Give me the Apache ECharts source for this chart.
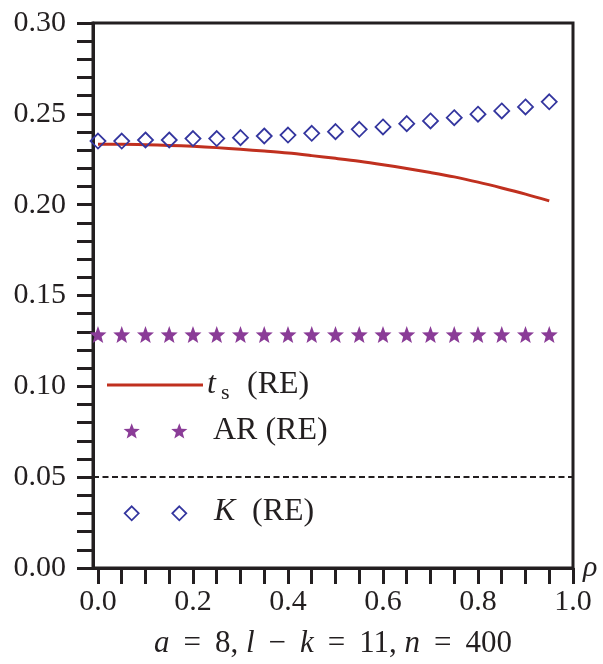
<!DOCTYPE html>
<html>
<head>
<meta charset="utf-8">
<script src="https://cdn.jsdelivr.net/npm/echarts@6/dist/echarts.min.js"></script>
<style>
  html, body { margin: 0; padding: 0; background: #fff; }
  #chart { width: 603px; height: 664px; }
</style>
</head>
<body>
<div id="chart"></div>
<script>
// correlation parameter rho
var rho = [0.00, 0.05, 0.10, 0.15, 0.20, 0.25, 0.30, 0.35, 0.40, 0.45,
           0.50, 0.55, 0.60, 0.65, 0.70, 0.75, 0.80, 0.85, 0.90, 0.95];
// rejection frequencies
var tsRE = [0.2332, 0.2332, 0.2330, 0.2326, 0.2321, 0.2314, 0.2305, 0.2295, 0.2284, 0.2270,
            0.2255, 0.2239, 0.2220, 0.2199, 0.2177, 0.2153, 0.2124, 0.2092, 0.2058, 0.2021];
var arRE = [0.1285, 0.1285, 0.1285, 0.1285, 0.1285, 0.1285, 0.1285, 0.1285, 0.1285, 0.1285,
            0.1285, 0.1285, 0.1285, 0.1285, 0.1285, 0.1285, 0.1285, 0.1285, 0.1285, 0.1285];
var kRE  = [0.2350, 0.2350, 0.2356, 0.2356, 0.2364, 0.2364, 0.2369, 0.2378, 0.2383, 0.2393,
            0.2402, 0.2415, 0.2428, 0.2446, 0.2461, 0.2479, 0.2498, 0.2516, 0.2538, 0.2566];
var nominalLevel = 0.05;

var xLabelValues = [0.0, 0.2, 0.4, 0.6, 0.8, 1.0];
var xTickValues = [0.00, 0.05, 0.10, 0.15, 0.20, 0.25, 0.30, 0.35, 0.40, 0.45, 0.50,
                   0.55, 0.60, 0.65, 0.70, 0.75, 0.80, 0.85, 0.90, 0.95, 1.00];

var RED = '#c0301f', PURPLE = '#8a3c97', BLUE = '#34369f', INK = '#231f20';
var FONT = '"Liberation Serif", "Times New Roman", serif';

function zip(xs, ys) { return xs.map(function (x, i) { return [x, ys[i]]; }); }

// five-pointed star outline
function starPoints(cx, cy, r) {
  var pts = [];
  for (var k = 0; k < 10; k++) {
    var rr = (k % 2) ? r * 0.42 : r;
    var a = (-90 + 36 * k) * Math.PI / 180;
    pts.push([cx + rr * Math.cos(a), cy + rr * Math.sin(a)]);
  }
  return pts;
}
function starPath() {
  var p = starPoints(0, 0, 10);
  return 'path://M' + p.map(function (q) { return q[0].toFixed(3) + ',' + q[1].toFixed(3); }).join('L') + 'Z';
}
function diamondPoints(cx, cy, h) {
  return [[cx, cy - h], [cx + h, cy], [cx, cy + h], [cx - h, cy]];
}

var chart = echarts.init(document.getElementById('chart'), null, { renderer: 'canvas' });

var legendX1 = 131.7, legendX2 = 179.3;

var option = {
  animation: false,
  backgroundColor: '#fff',
  grid: {
    left: 93, right: 30, top: 23, bottom: 96,
    show: true, borderColor: INK, borderWidth: 3, backgroundColor: 'transparent'
  },
  xAxis: {
    type: 'value',
    min: -0.0105, max: 1.0,
    name: 'ρ',
    nameLocation: 'end',
    nameGap: 10,
    nameTextStyle: { fontFamily: FONT, fontSize: 30, fontStyle: 'italic', color: INK,
                     verticalAlign: 'middle', padding: [0, 0, 16, 0] },
    axisLine: { onZero: false, lineStyle: { color: INK, width: 3 } },
    axisTick: { show: true, inside: false, length: 16, lineStyle: { color: INK, width: 3 },
                customValues: xTickValues },
    axisLabel: { customValues: xLabelValues, margin: 19, color: INK, fontFamily: FONT, fontSize: 30,
                 lineHeight: 30,
                 formatter: function (v) { return v.toFixed(1); } },
    splitLine: { show: false }
  },
  yAxis: {
    type: 'value',
    min: 0, max: 0.30, interval: 0.05,
    axisLine: { show: true, onZero: false, lineStyle: { color: INK, width: 3 } },
    axisTick: { show: true, inside: false, length: 16, lineStyle: { color: INK, width: 3 } },
    minorTick: { show: true, splitNumber: 5, length: 16, lineStyle: { color: INK, width: 3 } },
    axisLabel: { margin: 27, color: INK, fontFamily: FONT, fontSize: 30,
                 formatter: function (v) { return v.toFixed(2); } },
    splitLine: { show: false }
  },
  series: [
    {
      name: 'ts (RE)',
      type: 'line',
      data: zip(rho, tsRE),
      showSymbol: false,
      symbol: 'none',
      smooth: 0.3,
      lineStyle: { color: RED, width: 3 },
      z: 2,
      markLine: {
        silent: true,
        symbol: 'none',
        label: { show: false },
        lineStyle: { color: INK, type: [6, 3.5], width: 1.8 },
        data: [{ yAxis: nominalLevel }]
      }
    },
    {
      name: 'AR (RE)',
      type: 'scatter',
      data: zip(rho, arRE),
      symbol: starPath(),
      symbolSize: 17,
      itemStyle: { color: PURPLE, opacity: 1 },
      z: 3
    },
    {
      name: 'K (RE)',
      type: 'scatter',
      data: zip(rho, kRE),
      symbol: 'diamond',
      symbolSize: 15,
      itemStyle: { color: 'rgba(255,255,255,0)', borderColor: BLUE, borderWidth: 1.8, opacity: 1 },
      z: 4
    }
  ],
  graphic: [
    // legend: ts (RE)
    { type: 'line', shape: { x1: 107, y1: 385, x2: 203, y2: 385 },
      style: { stroke: RED, lineWidth: 3 } },
    { type: 'text', x: 207, y: 385,
      style: { text: 't', fontFamily: FONT, fontSize: 32, fontStyle: 'italic', fill: INK,
               align: 'left', verticalAlign: 'middle' } },
    { type: 'text', x: 221, y: 393,
      style: { text: 's', fontFamily: FONT, fontSize: 22, fill: INK,
               align: 'left', verticalAlign: 'middle' } },
    { type: 'text', x: 247, y: 385,
      style: { text: '(RE)', fontFamily: FONT, fontSize: 32, fill: INK,
               align: 'left', verticalAlign: 'middle' } },
    // legend: AR (RE)
    { type: 'polygon', shape: { points: starPoints(legendX1, 431.7, 8.5) }, style: { fill: PURPLE } },
    { type: 'polygon', shape: { points: starPoints(legendX2, 431.7, 8.5) }, style: { fill: PURPLE } },
    { type: 'text', x: 213, y: 430.5,
      style: { text: 'AR (RE)', fontFamily: FONT, fontSize: 32, fill: INK,
               align: 'left', verticalAlign: 'middle' } },
    // legend: K (RE)
    { type: 'polygon', shape: { points: diamondPoints(legendX1, 513.3, 7) },
      style: { fill: 'none', stroke: BLUE, lineWidth: 1.8 } },
    { type: 'polygon', shape: { points: diamondPoints(legendX2, 513.3, 7) },
      style: { fill: 'none', stroke: BLUE, lineWidth: 1.8 } },
    { type: 'text', x: 214, y: 512,
      style: { text: 'K', fontFamily: FONT, fontSize: 32, fontStyle: 'italic', fill: INK,
               align: 'left', verticalAlign: 'middle' } },
    { type: 'text', x: 252, y: 512,
      style: { text: '(RE)', fontFamily: FONT, fontSize: 32, fill: INK,
               align: 'left', verticalAlign: 'middle' } },
    // design parameters under the axis
    { type: 'text', x: 333, y: 643.5,
      style: {
        text: '{i|a}\u2009 = \u20098, {i|l}\u2009 − \u2009{i|k}\u2009 = \u200911, {i|n}\u2009 = \u2009400',
        fontFamily: FONT, fontSize: 31, fill: INK, align: 'center', verticalAlign: 'middle',
        rich: { i: { fontFamily: FONT, fontSize: 31, fontStyle: 'italic', fill: INK } }
      } }
  ]
};

chart.setOption(option);
</script>
</body>
</html>
